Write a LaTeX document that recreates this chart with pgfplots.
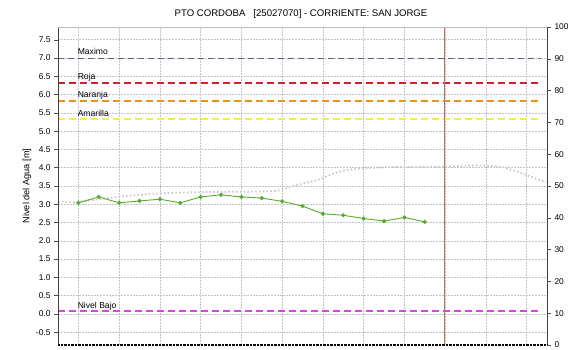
\documentclass[border=0pt]{standalone}
\usepackage{fontspec}
\setmainfont{Liberation Sans}
\usepackage{pgfplots}
\pgfplotsset{compat=1.18}
\definecolor{maxc}{HTML}{5A6480}
\definecolor{rojac}{HTML}{D0202A}
\definecolor{naranjac}{HTML}{F0901A}
\definecolor{amarillac}{HTML}{F2F23A}
\definecolor{bajoc}{HTML}{E040E8}
\definecolor{greenc}{HTML}{5AAA30}
\definecolor{redv}{HTML}{C06868}
\definecolor{gridc}{HTML}{C4C4C4}
\definecolor{grayc}{HTML}{C8C8C8}
\begin{document}
\begin{tikzpicture}[x=1pt,y=1pt]
\useasboundingbox (0,0) rectangle (571,350);
\begin{axis}[
  at={(58pt,5pt)}, anchor=south west,
  scale only axis, width=489pt, height=318pt,
  xmin=0, xmax=12, ymin=-0.85, ymax=7.85,
  axis line style={draw=none},
  xtick={0.5,1.5,...,11.5}, xticklabels={},
  x tick style={draw=none},
  ytick={-0.5,0,...,7.5},
  y tick style={black!70, line width=0.5pt},
  major tick length=4pt,
  tick align=outside,
  ytick pos=left,
  yticklabel style={font=\fontsize{8.4}{10}\selectfont, /pgf/number format/fixed, /pgf/number format/fixed zerofill, /pgf/number format/precision=1, /pgf/number format/assume math mode=true},
  grid=major,
  major grid style={gridc, line width=0.6pt, dash pattern=on 1.5pt off 1.5pt},
  clip=false,
]
% gray dotted series
\addplot[grayc, line width=1.8pt, dash pattern=on 1.6pt off 2.2pt, smooth] coordinates {
(0.0,3.06) (0.42,3.06) (1.47,3.20) (2.38,3.29) (3.43,3.33) (5.25,3.36) (5.64,3.46) (6.05,3.58) (6.42,3.68) (6.74,3.83) (7.16,3.95) (7.97,4.01) (9.44,4.03) (10.27,4.06) (10.83,4.03) (11.25,3.90) (11.64,3.74) (11.98,3.60)};
% green observed series
\addplot[greenc, line width=0.9pt, mark=*, mark size=1.6pt, mark options={fill=greenc, draw=greenc}] coordinates {
(0.5,3.04) (1.0,3.20) (1.5,3.04) (2.0,3.09) (2.5,3.14) (3.0,3.04) (3.5,3.20) (4.0,3.26) (4.5,3.20) (5.0,3.17) (5.5,3.08) (6.0,2.95) (6.5,2.74) (7.0,2.70) (7.5,2.61) (8.0,2.54) (8.5,2.64) (9.0,2.52)};
% thresholds
\addplot[maxc, line width=1.5pt, dash pattern=on 6pt off 4pt] coordinates {(0,6.99) (11.85,6.99)};
\addplot[rojac, line width=2pt, dash pattern=on 7pt off 4pt] coordinates {(0,6.33) (11.85,6.33)};
\addplot[naranjac, line width=2pt, dash pattern=on 7pt off 4pt] coordinates {(0,5.82) (11.85,5.82)};
\addplot[amarillac, line width=2pt, dash pattern=on 7pt off 4pt] coordinates {(0,5.33) (11.85,5.33)};
\addplot[bajoc, line width=2pt, dash pattern=on 7pt off 4pt] coordinates {(0,0.07) (11.85,0.07)};
% current time
\addplot[redv, line width=0.8pt] coordinates {(9.48,-0.85) (9.48,7.85)};
\begin{scope}[every node/.style={font=\fontsize{8.6}{10}\selectfont, anchor=base west, inner sep=0pt}]
\node at (axis cs:0.48,7.09) {Maximo};
\node at (axis cs:0.48,6.42) {Roja};
\node at (axis cs:0.48,5.91) {Naranja};
\node at (axis cs:0.48,5.40) {Amarilla};
\node at (axis cs:0.48,0.16) {Nivel Bajo};
\end{scope}
\draw[black!75, line width=0.7pt] (rel axis cs:0,0) -- (rel axis cs:0,1);
\draw[black!25, line width=0.6pt] (rel axis cs:0,1) -- (rel axis cs:1,1);
\draw[black!75, line width=0.7pt] (rel axis cs:1,0) -- (rel axis cs:1,1);
\draw[black, line width=1.1pt, dash pattern=on 0.8pt off 0.6pt] (rel axis cs:0,0) -- (rel axis cs:1,0);
\end{axis}
\begin{axis}[
  at={(58pt,5pt)}, anchor=south west,
  scale only axis, width=489pt, height=318pt,
  xmin=0, xmax=12, ymin=0, ymax=100,
  axis line style={draw=none},
  xtick=\empty,
  ytick={0,10,...,100},
  ytick pos=right,
  yticklabel pos=right,
  tick align=outside,
  major tick length=4pt,
  y tick style={black!70, line width=0.5pt},
  yticklabel style={font=\fontsize{8.4}{10}\selectfont, /pgf/number format/assume math mode=true},
]
\end{axis}
\node[font=\fontsize{9.6}{11}\selectfont] at (301,336) {PTO CORDOBA\ \ \ [25027070] - CORRIENTE: SAN JORGE};
\node[font=\fontsize{9.2}{11}\selectfont, rotate=90] at (27,164) {Nivel del Agua [m]};
\end{tikzpicture}
\end{document}
